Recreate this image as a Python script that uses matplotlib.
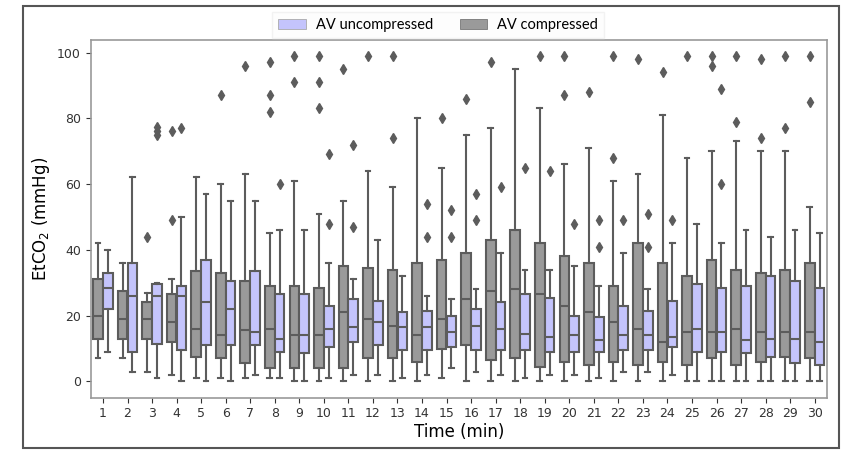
import matplotlib
matplotlib.use("Agg")
import matplotlib.pyplot as plt
from matplotlib.patches import Patch, Rectangle
import numpy as np

minutes = list(range(1, 31))

# AV compressed (gray)
comp_lo  = [7, 7, 3, 2, 1, 1, 1, 1, 0, 0, 0, 0, 0, 0, 1, 0, 0, 0, 0, 0, 0, 0, 0, 0, 0, 0, 0, 0, 0, 0]
comp_q1  = [13, 13, 13, 12, 7.5, 7, 5.5, 4, 4, 4, 4, 7, 7, 6, 10, 11, 6.5, 7, 4.5, 6, 5, 6, 5, 6, 5, 7, 5, 6, 7.5, 7]
comp_med = [20, 19, 19, 18, 16, 14, 15.5, 16, 14, 14, 21, 19, 17, 14, 19, 25, 27.5, 28, 26.5, 23, 21, 18, 16, 12, 15, 15, 16, 15, 15, 15]
comp_q3  = [31, 27.5, 24, 26.5, 33.5, 33, 30.5, 29, 29, 28.5, 35, 34.5, 34, 36, 37, 39, 43, 46, 42, 38, 36, 29, 42, 36, 32, 37, 34, 33, 34, 36]
comp_hi  = [42, 36, 27, 31, 62, 60, 63, 45, 61, 51, 55, 64, 59, 80, 65, 75, 77, 95, 83, 66, 71, 61, 63, 81, 68, 70, 73, 70, 70, 53]
comp_fliers = [[], [], [44], [49, 76], [], [87], [96], [82, 87, 97], [91, 99], [83, 91, 99],
               [95], [99], [74, 99], [], [80], [86], [97], [], [99], [87, 99],
               [88], [68, 99], [98], [94], [99], [96, 99], [79, 99], [74, 98], [77, 99], [85, 99]]

# AV uncompressed (purple)
unc_lo  = [9, 3, 1, 0, 0, 0, 2, 1, 0, 1, 2, 2, 1, 2, 4, 3, 2, 1, 2, 2, 1, 3, 3, 2, 0, 0, 0, 0, 0, 0]
unc_q1  = [22, 9, 11.5, 9.5, 11, 11, 11, 9, 8.5, 10.5, 12, 11, 9.5, 9.5, 10.5, 9.5, 9.5, 9.5, 9, 9, 9, 9.5, 9.5, 10.5, 9, 9, 8.5, 7.5, 5.5, 5]
unc_med = [28.5, 26, 26, 26, 24, 22, 15, 13, 14, 16, 16.5, 18, 16.5, 16.5, 15, 17, 16, 14.5, 13.5, 14, 12.5, 14, 14, 13.5, 16, 15, 12.5, 13, 13, 12]
unc_q3  = [33, 36, 29.5, 29, 37, 30.5, 33.5, 26.5, 26.5, 23, 25, 24.5, 21, 21.5, 20, 22, 24, 26.5, 25.5, 20, 19.5, 23, 21.5, 24.5, 29.5, 28.5, 29, 32, 30.5, 28.5]
unc_hi  = [40, 62, 30, 50, 57, 55, 55, 46, 46, 36, 31, 43, 32, 26, 25, 28, 39, 34, 34, 35, 29, 39, 28, 42, 48, 42, 46, 44, 46, 45]
unc_fliers = [[], [], [75, 76, 77.5], [77], [], [], [], [60], [], [48, 69],
              [47, 72], [], [], [44, 54], [44, 52], [49, 57], [59], [65], [64], [48],
              [41, 49], [49], [41, 51], [49], [], [60, 89], [], [], [], []]

gray_fill = "#9a9a9a"
purple_fill = "#c4c4fc"
line_col = "#5c5c5c"

fig = plt.figure(figsize=(8.46, 4.5), dpi=100)
ax = fig.add_axes([0.1072, 0.1162, 0.8703, 0.7960])

def stats(lo, q1, med, q3, hi, fl):
    return [dict(whislo=a, q1=b, med=c, q3=d, whishi=e, fliers=f)
            for a, b, c, d, e, f in zip(lo, q1, med, q3, hi, fl)]

idx = np.arange(len(minutes))
common = dict(widths=0.392, patch_artist=True, showfliers=True,
              whiskerprops=dict(color=line_col, linewidth=1.5),
              capprops=dict(color=line_col, linewidth=1.5),
              medianprops=dict(color=line_col, linewidth=1.5),
              flierprops=dict(marker="d", markerfacecolor=line_col, markeredgecolor=line_col,
                              markersize=5, linestyle="none"),
              manage_ticks=False)

ax.bxp(stats(comp_lo, comp_q1, comp_med, comp_q3, comp_hi, comp_fliers), positions=idx - 0.2,
       boxprops=dict(facecolor=gray_fill, edgecolor=line_col, linewidth=1.5), **common)
ax.bxp(stats(unc_lo, unc_q1, unc_med, unc_q3, unc_hi, unc_fliers), positions=idx + 0.2,
       boxprops=dict(facecolor=purple_fill, edgecolor=line_col, linewidth=1.5), **common)

ax.set_xlim(-0.5, len(minutes) - 0.5)
ax.set_ylim(-4.95, 103.95)
ax.set_xticks(idx)
ax.set_xticklabels([str(m) for m in minutes])
ax.set_yticks([0, 20, 40, 60, 80, 100])
ax.tick_params(labelsize=9, colors="#333333", length=3.5)
for s in ax.spines.values():
    s.set_color("#999999")
    s.set_linewidth(1.2)
ax.set_xlabel("Time (min)", fontsize=12, labelpad=2)
ax.set_ylabel("EtCO$_2$ (mmHg)", fontsize=12)

handles = [Patch(facecolor=purple_fill, edgecolor="#aaaaaa", linewidth=0.6),
           Patch(facecolor=gray_fill, edgecolor="#777777", linewidth=0.6)]
leg = fig.legend(handles, ["AV uncompressed", "AV compressed"], loc="center",
                 bbox_to_anchor=(0.518, 0.944), ncol=2, frameon=True,
                 prop={"family": "Lato", "size": 10.5}, fancybox=False,
                 handlelength=1.9, handleheight=0.65, handletextpad=0.7,
                 columnspacing=1.8, borderpad=0.4)
leg.get_frame().set_edgecolor("#f0f0f0")
leg.get_frame().set_facecolor("#fdfdfd")

fig.patches.append(Rectangle((0.0266, 0.0044), 0.9651, 0.9826, transform=fig.transFigure,
                             fill=False, edgecolor="#555555", linewidth=1.5))

fig.savefig("out.png", dpi=100)
